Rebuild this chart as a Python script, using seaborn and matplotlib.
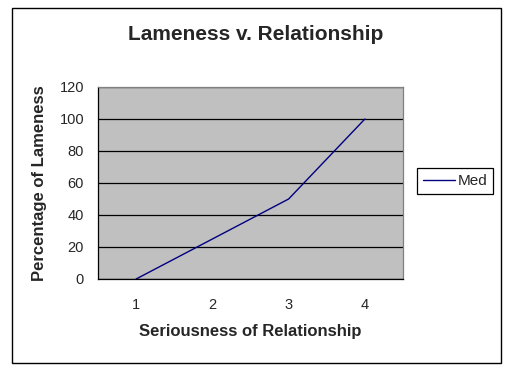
import pandas as pd
import seaborn as sns
import matplotlib.pyplot as plt
from matplotlib.patches import Rectangle

# chart data
seriousness = [1, 2, 3, 4]
lameness = [0, 25, 50, 100]
series_name = "Med"

df = pd.DataFrame({"seriousness": seriousness, "lameness": lameness, "series": series_name})

sns.set_style("white")
plt.rcParams['font.family'] = ['Liberation Sans', 'DejaVu Sans']

fig = plt.figure(figsize=(5.1, 3.73), dpi=100)
# plot area in pixel coords: x 98-403, y 87-279 (from top)
ax = fig.add_axes([98 / 510, 1 - 279 / 373, 305 / 510, 192 / 373])
ax.set_facecolor("#c0c0c0")

sns.lineplot(data=df, x="seriousness", y="lameness", hue="series",
             palette=["#000080"], linewidth=1, ax=ax)

ax.set_ylim(0, 120)
ax.set_yticks(range(0, 121, 20))
ax.yaxis.grid(True, color="black", linewidth=0.9)
ax.set_axisbelow(True)

# category axis: ticks between categories, labels at centers
ax.set_xlim(0.5, 4.5)
ax.set_xticks([0.5, 1.5, 2.5, 3.5, 4.5])
ax.set_xticklabels([])
ax.set_xticks(seriousness, minor=True)
ax.set_xticklabels([str(s) for s in seriousness], minor=True)
ax.tick_params(axis="x", which="major", direction="out", length=5, width=0.9, color="black")
ax.tick_params(axis="x", which="minor", length=0, pad=14, labelsize=10.5)
ax.tick_params(axis="y", direction="out", length=5, width=0.9, color="black", labelsize=10.5, pad=5)

for side in ["top", "right"]:
    ax.spines[side].set_color("#808080")
    ax.spines[side].set_linewidth(0.9)
for side in ["left", "bottom"]:
    ax.spines[side].set_color("black")
    ax.spines[side].set_linewidth(0.9)

ax.set_xlabel("Seriousness of Relationship", fontsize=12, fontweight="bold", labelpad=8)
ax.set_ylabel("Percentage of Lameness", fontsize=12, fontweight="bold", labelpad=9)

fig.text(256 / 510, 1 - 35 / 373, "Lameness v. Relationship", ha="center", va="center",
         fontsize=15, fontweight="bold")

handles, labels = ax.get_legend_handles_labels()
ax.legend(handles, labels, loc="center left", bbox_to_anchor=(417 / 510, 1 - 181 / 373),
          bbox_transform=fig.transFigure, frameon=True, fancybox=False, edgecolor="black",
          framealpha=1, fontsize=11, handlelength=2.1, handletextpad=0.15,
          borderpad=0.4, borderaxespad=0)
ax.get_legend().get_frame().set_linewidth(0.9)

# outer chart border
fig.patches.append(Rectangle((12 / 510, 1 - 363 / 373), 489 / 510, 355 / 373,
                             transform=fig.transFigure, fill=False,
                             edgecolor="black", linewidth=1))

plt.savefig("out.png", dpi=100)
